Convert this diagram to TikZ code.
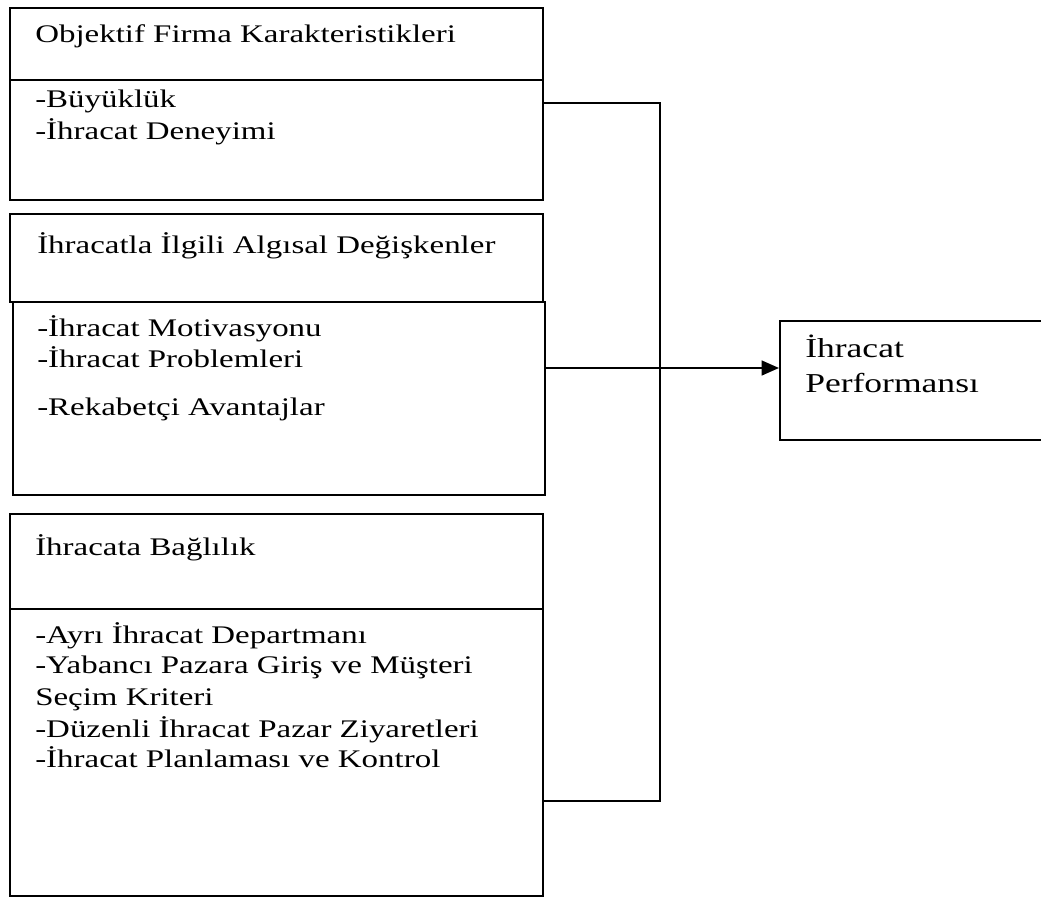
\documentclass[tikz,border=0pt]{standalone}
\usepackage{fontspec}
\setmainfont{Liberation Serif}[FakeStretch=1.3]
\usetikzlibrary{arrows.meta}
\begin{document}
\begin{tikzpicture}[x=0.75pt,y=-0.75pt,
  box/.style={draw,line width=1.8pt,inner sep=0pt,anchor=north west},
  txt/.style={anchor=base west,inner sep=0pt,font=\fontsize{19}{23}\selectfont},
  bigtxt/.style={anchor=base west,inner sep=0pt,font=\fontsize{20.5}{25}\selectfont},
  conn/.style={line width=1.8pt},
  arr/.style={line width=1.8pt,-{Triangle[length=13pt,width=11pt]}}]
\useasboundingbox (0,0) rectangle (1041,898);
% box 1
\node[box,minimum width=533*0.75pt,minimum height=72*0.75pt] (h1) at (9,7) {};
\node[box,minimum width=533*0.75pt,minimum height=120*0.75pt] (b1) at (9,79) {};
% box 2
\node[box,minimum width=533*0.75pt,minimum height=88*0.75pt] (h2) at (9,213) {};
\node[box,minimum width=532*0.75pt,minimum height=193*0.75pt] (b2) at (12,301) {};
% box 3
\node[box,minimum width=533*0.75pt,minimum height=95*0.75pt] (h3) at (9,513) {};
\node[box,minimum width=533*0.75pt,minimum height=287*0.75pt] (b3) at (9,608) {};
% right box (its right side runs past the picture's edge)
\node[box,minimum width=290*0.75pt,minimum height=119*0.75pt] (perf) at (779,320) {};
% texts
\node[txt] (t1) at (35,43) {Objektif Firma Karakteristikleri};
\node[txt] (t1a) at (35,108) {-Büyüklük};
\node[txt] (t1b) at (35,140) {-İhracat Deneyimi};
\node[txt] (t2) at (37,254) {İhracatla İlgili Algısal Değişkenler};
\node[txt] (t2a) at (37,336) {-İhracat Motivasyonu};
\node[txt] (t2b) at (37,367) {-İhracat Problemleri};
\node[txt] (t2c) at (37,415) {-Rekabetçi Avantajlar};
\node[txt] (t3) at (35,555) {İhracata Bağlılık};
\node[txt] (t3a) at (35,643) {-Ayrı İhracat Departmanı};
\node[txt] (t3b) at (35,673) {-Yabancı Pazara Giriş ve Müşteri};
\node[txt] (t3c) at (35,705) {Seçim Kriteri};
\node[txt] (t3d) at (35,737) {-Düzenli İhracat Pazar Ziyaretleri};
\node[txt] (t3e) at (35,767) {-İhracat Planlaması ve Kontrol};
\node[bigtxt] (t4a) at (805,357) {İhracat};
\node[bigtxt] (t4b) at (805,392) {Performansı};
% connectors
\coordinate (tJ) at (660,103);
\coordinate (bJ) at (660,801);
\coordinate (aY) at (600,368);
\draw[conn] (b1.east |- tJ) -- (tJ) -- (bJ) -- (b3.east |- bJ);
\draw[arr] (b2.east |- aY) -- (perf.west |- aY);
\end{tikzpicture}
\end{document}
